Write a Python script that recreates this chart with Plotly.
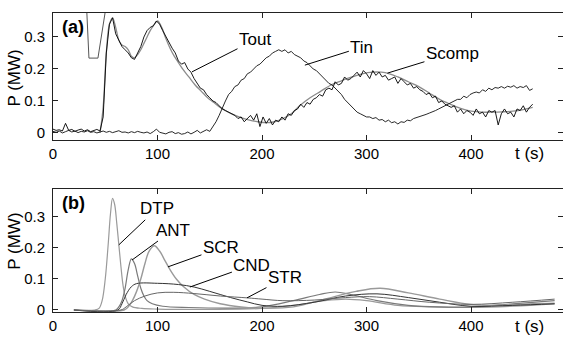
import plotly.graph_objects as go
from plotly.subplots import make_subplots

# ---------------- data: panel (a) ----------------
t_meas = list(range(0, 462, 3))
tout = [0.012, 0.008, 0.010, 0.006, 0.030, 0.008, 0.011, 0.005, 0.009, 0.012, 0.006, 0.010, 0.004, 0.008, 0.011, 0.006,
        0.05, 0.25, 0.34, 0.36, 0.31, 0.29, 0.27, 0.26, 0.25, 0.235, 0.23, 0.25, 0.27, 0.30, 0.32, 0.33, 0.335, 0.35,
        0.34, 0.32, 0.30, 0.28, 0.265, 0.25, 0.225, 0.215, 0.22, 0.20, 0.19, 0.17, 0.155, 0.14, 0.135, 0.12, 0.11,
        0.10, 0.095, 0.085, 0.075, 0.07, 0.065, 0.06, 0.055, 0.045, 0.05, 0.035, 0.045, 0.055, 0.04, 0.06, 0.02,
        0.05, 0.03, 0.045, 0.025, 0.04, 0.035, 0.05, 0.04, 0.06, 0.055, 0.07, 0.075, 0.09,
        0.08, 0.095, 0.09, 0.105, 0.11, 0.12, 0.115, 0.135, 0.14, 0.135,
        0.16, 0.15, 0.155, 0.175, 0.165, 0.17, 0.18, 0.19, 0.175, 0.195,
        0.185, 0.17, 0.195, 0.18, 0.19, 0.175, 0.18, 0.165, 0.17, 0.175,
        0.155, 0.17, 0.16, 0.15, 0.155, 0.14, 0.145, 0.135, 0.13, 0.12,
        0.125, 0.11, 0.115, 0.095, 0.1, 0.09, 0.085, 0.08, 0.085, 0.065,
        0.075, 0.06, 0.07, 0.065, 0.055, 0.075, 0.06, 0.065, 0.05, 0.07,
        0.065, 0.07, 0.025, 0.06, 0.075, 0.06, 0.065, 0.05, 0.075, 0.07,
        0.085, 0.065, 0.08, 0.09]
tin = [0.005, 0.002, 0.006, 0.0, 0.004, 0.008, 0.003, 0.006, 0.001, 0.005, 0.003, 0.007, 0.002, 0.004, 0.0, 0.003,
       0.006, 0.002, 0.005, 0.001, 0.004, 0.007, 0.002, 0.003, 0.0, 0.004, 0.001, 0.005, 0.002, 0.0, 0.003, -0.002,
       0.004, 0.012, 0.002, 0.0, -0.003, 0.002, 0.004, -0.002, 0.001, -0.004, -0.002, 0.003, -0.003, 0.002, 0.008,
       0.0, 0.006, 0.01, 0.005, 0.02, 0.035, 0.055, 0.08, 0.10, 0.12, 0.13, 0.145, 0.15, 0.165, 0.17, 0.185, 0.19,
       0.20, 0.21, 0.215, 0.225, 0.235, 0.24, 0.25, 0.255, 0.26, 0.255, 0.26, 0.25, 0.255, 0.245, 0.24, 0.235,
       0.225, 0.22, 0.21, 0.20, 0.195, 0.185, 0.175, 0.165, 0.155, 0.15, 0.14, 0.13, 0.12, 0.105, 0.095, 0.085,
       0.075, 0.065, 0.06, 0.055, 0.05, 0.05, 0.045, 0.048, 0.04, 0.042, 0.035, 0.04, 0.032, 0.035, 0.028, 0.035,
       0.033, 0.04, 0.038, 0.045, 0.048, 0.05, 0.055, 0.058, 0.062, 0.065, 0.07, 0.075, 0.08, 0.085, 0.09, 0.095,
       0.10, 0.105, 0.105, 0.115, 0.11, 0.12, 0.125, 0.128, 0.125, 0.135, 0.13, 0.14, 0.135, 0.142, 0.14, 0.145,
       0.14, 0.146, 0.143, 0.148, 0.14, 0.145, 0.142, 0.148, 0.133, 0.138]
t_scomp = [45, 48, 51, 54, 57, 60, 63, 66, 69, 72, 75, 78, 81, 84, 87, 90, 93, 96, 100, 104, 108, 112, 116, 120,
           124, 130, 136, 142, 148, 154, 160, 166, 172, 180, 188, 196, 204, 212, 220, 228, 236, 246, 256, 266,
           276, 286, 296, 306, 314, 322, 330, 340, 350, 360, 370, 380, 390, 400, 410, 420, 430, 440, 450, 459]
scomp = [0.0, 0.08, 0.25, 0.34, 0.36, 0.33, 0.29, 0.275, 0.27, 0.26, 0.24, 0.235, 0.245, 0.26, 0.28, 0.30, 0.32,
         0.335, 0.35, 0.33, 0.295, 0.265, 0.24, 0.22, 0.20, 0.175, 0.15, 0.13, 0.11, 0.095, 0.08, 0.068, 0.058,
         0.048, 0.04, 0.035, 0.032, 0.035, 0.045, 0.06, 0.085, 0.11, 0.13, 0.15, 0.163, 0.175, 0.185, 0.19, 0.19,
         0.185, 0.175, 0.16, 0.145, 0.125, 0.105, 0.09, 0.077, 0.068, 0.065, 0.065, 0.066, 0.068, 0.073, 0.08]
t_early = [31.9, 34.4, 43.0, 51.0]
early = [0.41, 0.234, 0.234, 0.40]

# ---------------- data: panel (b) ----------------
t_dtp = [20, 40, 44, 47, 50, 53, 55, 57, 59, 61, 63, 65, 67, 69, 72, 76, 85, 100, 150, 200, 230, 260, 280, 300,
         330, 360, 400, 440, 480]
dtp = [0, 0, 0.005, 0.03, 0.10, 0.22, 0.31, 0.36, 0.34, 0.28, 0.21, 0.14, 0.08, 0.045, 0.02, 0.01, 0.005, 0.003,
       0.002, 0.005, 0.015, 0.03, 0.035, 0.03, 0.015, 0.01, 0.008, 0.012, 0.02]
t_ant = [20, 60, 63, 66, 69, 72, 75, 78, 81, 84, 87, 90, 95, 105, 130, 170, 200, 230, 255, 270, 285, 310, 340,
         370, 400, 440, 480]
ant = [0, 0, 0.01, 0.03, 0.07, 0.13, 0.165, 0.15, 0.11, 0.07, 0.045, 0.03, 0.02, 0.012, 0.008, 0.006, 0.01, 0.03,
       0.05, 0.058, 0.05, 0.03, 0.015, 0.01, 0.01, 0.02, 0.03]
t_scr = [20, 68, 72, 76, 80, 84, 88, 92, 97, 102, 107, 112, 118, 125, 135, 145, 160, 180, 200, 230, 260, 290,
         313, 340, 370, 400, 430, 460, 480]
scr = [0, 0, 0.01, 0.03, 0.06, 0.10, 0.15, 0.19, 0.207, 0.19, 0.16, 0.13, 0.10, 0.075, 0.05, 0.035, 0.02, 0.01,
       0.006, 0.01, 0.035, 0.06, 0.07, 0.055, 0.035, 0.018, 0.015, 0.02, 0.022]
t_cnd = [20, 62, 66, 70, 75, 80, 100, 120, 135, 150, 170, 186, 200, 220, 250, 280, 310, 340, 370, 400, 440, 480]
cnd = [0, 0, 0.02, 0.05, 0.075, 0.085, 0.086, 0.082, 0.074, 0.06, 0.04, 0.026, 0.015, 0.012, 0.025, 0.045, 0.052,
       0.04, 0.025, 0.012, 0.015, 0.02]
t_str = [20, 65, 70, 78, 88, 100, 115, 135, 160, 186, 200, 220, 250, 280, 303, 330, 360, 400, 440, 480]
stra = [0, 0, 0.01, 0.03, 0.045, 0.055, 0.057, 0.053, 0.045, 0.039, 0.035, 0.03, 0.032, 0.04, 0.043, 0.035, 0.025,
        0.018, 0.025, 0.035]

x_ticks = [0, 100, 200, 300, 400]
y_ticks = [0, 0.1, 0.2, 0.3]
y_ticktext = ["0", "0.1", "0.2", "0.3"]

FONT = "Liberation Sans, Arial, Helvetica, sans-serif"

fig = make_subplots(rows=2, cols=1, vertical_spacing=0.0)

def line(x, y, color, width=1.0, row=1, shape="linear"):
    fig.add_trace(go.Scatter(x=x, y=y, mode="lines", line=dict(color=color, width=width, shape=shape),
                             showlegend=False, hoverinfo="skip"), row=row, col=1)

line(t_early, early, "#555555", 1.0, 1)
line(t_scomp, scomp, "#8c8c8c", 1.3, 1, "spline")
line(t_meas, tin, "#111111", 0.9, 1)
line(t_meas, tout, "#000000", 0.9, 1)

line(t_dtp, dtp, "#9a9a9a", 1.2, 2, "spline")
line(t_ant, ant, "#7a7a7a", 1.2, 2, "spline")
line(t_scr, scr, "#9a9a9a", 1.4, 2, "spline")
line(t_cnd, cnd, "#333333", 1.0, 2, "spline")
line(t_str, stra, "#666666", 1.0, 2, "spline")

axis_common = dict(showgrid=False, zeroline=False, showline=True, linecolor="#222222", linewidth=1,
                   mirror="ticks", ticks="inside", ticklen=5, tickcolor="#222222",
                   tickfont=dict(family=FONT, size=15, color="black"))

fig.update_xaxes(range=[0, 488], tickvals=x_ticks, **axis_common)
fig.update_yaxes(tickvals=y_ticks, ticktext=y_ticktext, ticklabelstandoff=4, **axis_common)
fig.update_yaxes(range=[-0.022, 0.375], domain=[0.5753, 1.0], row=1, col=1)
fig.update_yaxes(range=[-0.0065, 0.39], domain=[0.0, 0.4114], row=2, col=1)

annos = []
def lab(text, x, y, ax, ay, xr, yr):
    annos.append(dict(text=text, x=x, y=y, xref=xr, yref=yr, ax=ax, ay=ay, axref="pixel", ayref="pixel",
                      showarrow=True, arrowhead=0, arrowwidth=1, arrowcolor="black",
                      font=dict(family=FONT, size=17, color="black")))

lab("Tout", 133, 0.191, 63, -32, "x", "y")
lab("Tin", 241, 0.212, 57, -18, "x", "y")
lab("Scomp", 320, 0.187, 65, -20, "x", "y")
lab("DTP", 63, 0.21, 38, -36, "x2", "y2")
lab("ANT", 75.6, 0.161, 41, -30, "x2", "y2")
lab("SCR", 110, 0.139, 53, -19, "x2", "y2")
lab("CND", 131, 0.074, 62, -22, "x2", "y2")
lab("STR", 185.6, 0.039, 38, -20, "x2", "y2")

for txt, xr, yr, yy in [("<b>(a)</b>", "x", "y", 0.375), ("<b>(b)</b>", "x2", "y2", 0.39)]:
    annos.append(dict(text=txt, x=7, y=yy, xref=xr, yref=yr, xanchor="left", yanchor="top", showarrow=False,
                      yshift=-2, font=dict(family=FONT, size=18, color="black")))

for xr, yr, yy in [("x", "y", -0.022), ("x2", "y2", -0.0065)]:
    annos.append(dict(text="t (s)", x=455.5, y=yy, xref=xr, yref=yr, yanchor="middle", showarrow=False,
                      yshift=-14, font=dict(family=FONT, size=17, color="black")))

for yr, yy in [("y", 0.17), ("y2", 0.22)]:
    annos.append(dict(text="P (MW)", x=0, y=yy, xref="paper", yref=yr, xshift=-38, textangle=-90,
                      xanchor="center", yanchor="middle",
                      showarrow=False, font=dict(family=FONT, size=17, color="black")))

fig.update_layout(width=563, height=338, margin=dict(l=53, r=0, t=13, b=26),
                  paper_bgcolor="white", plot_bgcolor="white", annotations=annos,
                  font=dict(family=FONT, color="black"))

fig.write_html("out.html")
